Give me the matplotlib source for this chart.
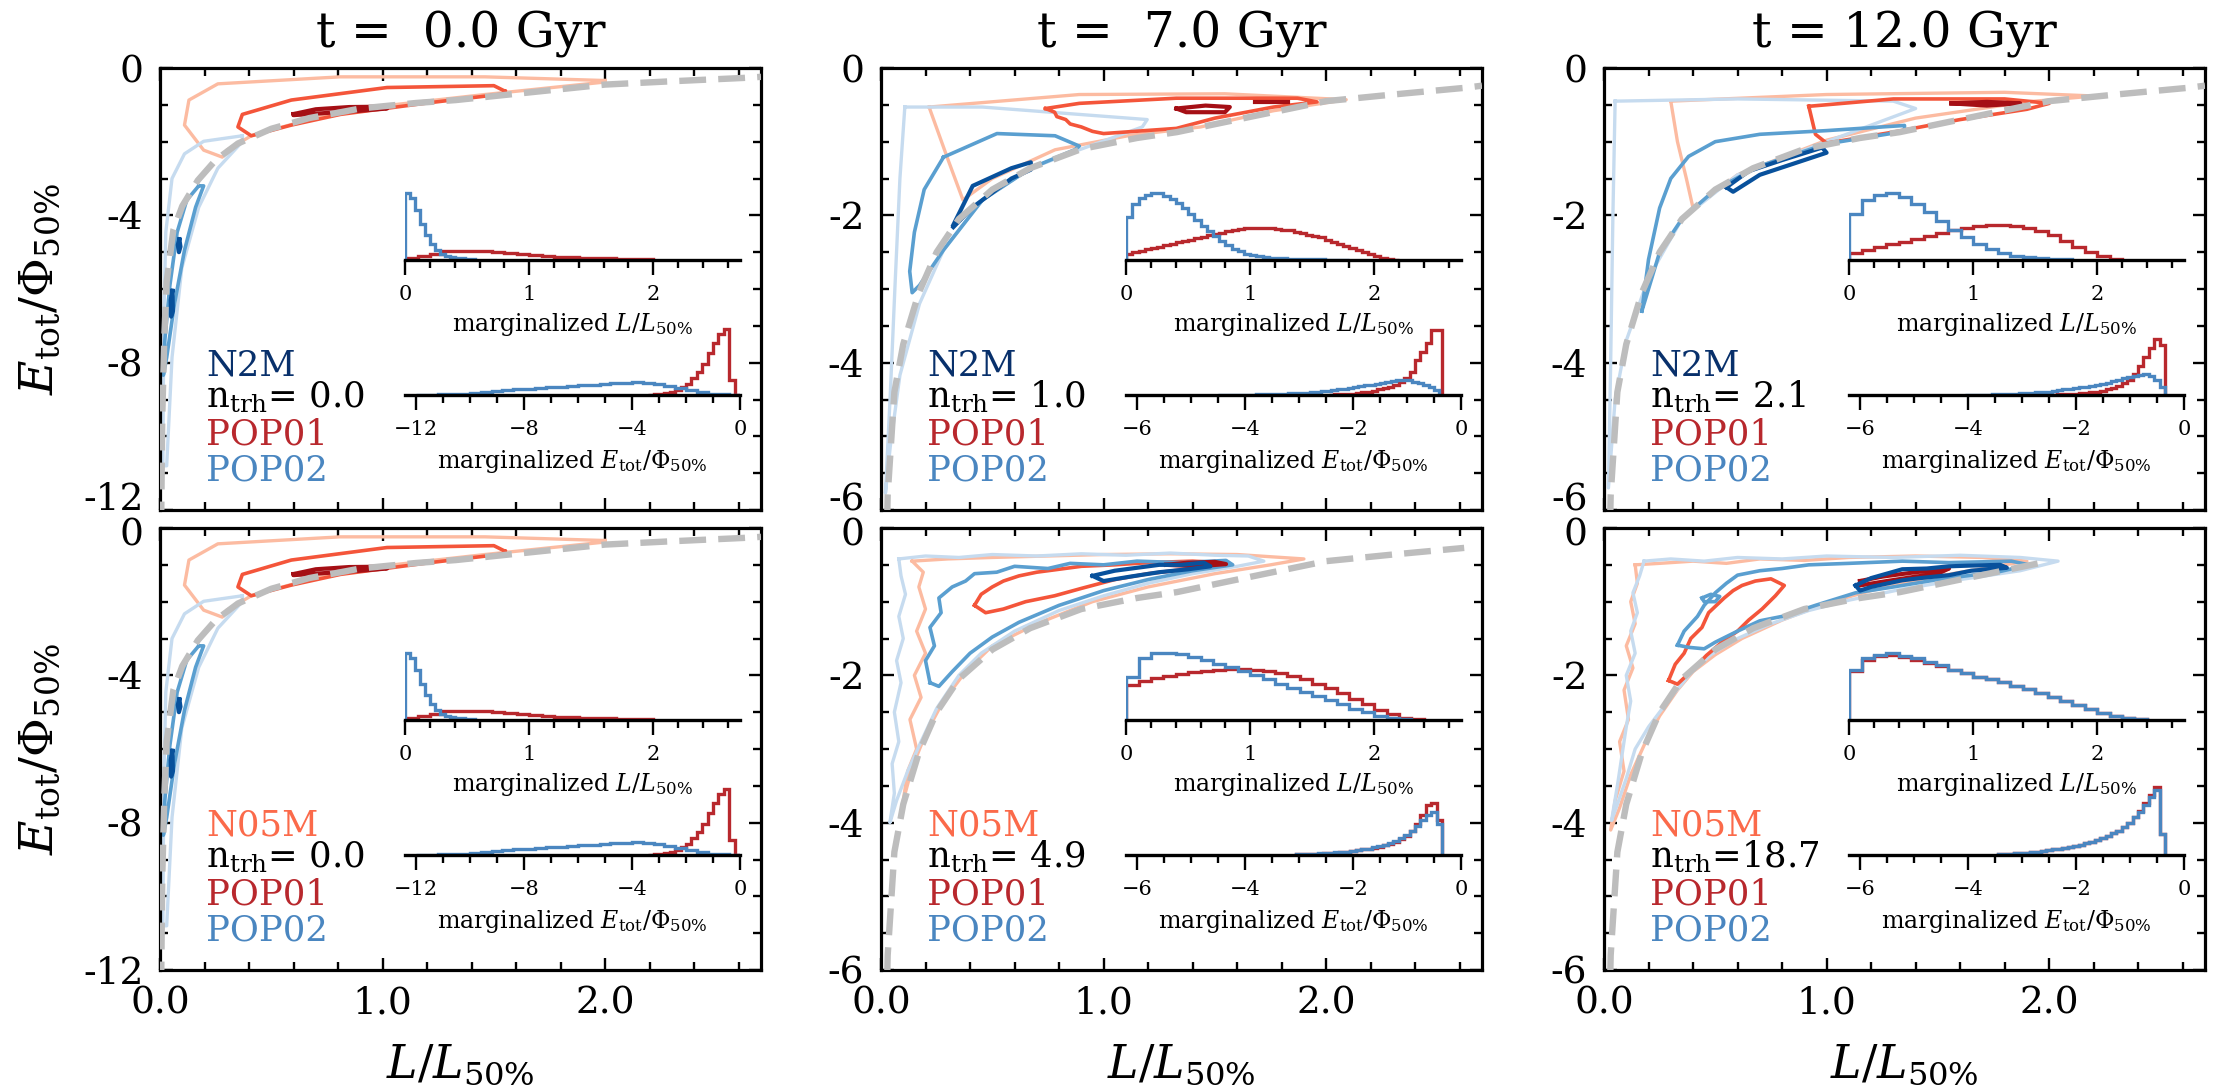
import numpy as np
import matplotlib
matplotlib.use("Agg")
import matplotlib.pyplot as plt

plt.rcParams["font.family"] = ["DejaVu Serif"]
plt.rcParams["mathtext.fontset"] = "dejavuserif"

# ---------------- panel meta data ----------------
times = [0.0, 7.0, 12.0]
models = ["N2M", "N05M"]
model_colors = ["#08306b", "#fb6a4a"]
n_trh = [[0.0, 1.0, 2.1], [0.0, 4.9, 18.7]]
e_min = [-12, -6, -6]
curve_end = [[2.7, 2.7, 2.7], [2.7, 2.62, 2.27]]

POP1_COLOR = "#b8282d"
POP2_COLOR = "#4a86c0"
R_OUT, R_MID, R_IN = "#fcbba1", "#f4553a", "#a50f15"
B_OUT, B_MID, B_IN = "#c6dbef", "#5a9fd0", "#08519c"

# circular orbit envelope (grey dashed)
env_L = [0.005, 0.01, 0.02, 0.03, 0.06, 0.1, 0.17, 0.25, 0.35, 0.5, 0.67, 0.9,
         1.15, 1.33, 1.6, 2.0, 2.3, 2.62, 2.7]
env_E = [-12.5, -9.5, -7.2, -5.8, -4.4, -3.75, -3.05, -2.5, -2.05, -1.65, -1.36,
         -1.1, -0.95, -0.87, -0.7, -0.45, -0.36, -0.27, -0.24]

# ---------------- contour outlines (L, E) ----------------
# t = 0 (identical in both rows)
t0_r_out = [(2.0, -0.34), (1.46, -0.24), (0.81, -0.24), (0.26, -0.43), (0.13, -0.87),
            (0.11, -1.55), (0.196, -2.23), (0.28, -2.42), (0.30, -2.23), (0.41, -1.84),
            (0.81, -1.16), (1.46, -0.72), (2.0, -0.38), (2.0, -0.34)]
t0_r_mid = [(1.55, -0.63), (1.50, -0.48), (1.02, -0.53), (0.59, -0.87), (0.37, -1.26),
            (0.35, -1.6), (0.41, -1.84), (0.59, -1.55), (0.81, -1.26), (1.2, -0.95),
            (1.55, -0.70), (1.55, -0.63)]
t0_r_in = [(0.6, -1.25), (0.7, -1.12), (0.85, -1.06), (1.0, -1.05), (1.02, -1.1),
           (0.9, -1.16), (0.75, -1.22), (0.6, -1.28), (0.6, -1.25)]
t0_b_out = [(0.37, -1.84), (0.196, -1.99), (0.11, -2.33), (0.054, -3.0), (0.026, -4.46),
            (0.017, -6.9), (0.013, -10.8), (0.03, -10.8), (0.054, -7.86), (0.098, -5.43),
            (0.174, -3.78), (0.26, -2.72), (0.37, -2.0), (0.37, -1.84)]
t0_b_mid = [(0.174, -3.2), (0.12, -3.59), (0.077, -4.46), (0.044, -5.92), (0.022, -7.37),
            (0.015, -8.34), (0.03, -7.86), (0.065, -6.4), (0.11, -4.95), (0.16, -3.78),
            (0.196, -3.2), (0.174, -3.2)]
t0_b_in1 = [(0.087, -4.65), (0.092, -4.85), (0.085, -5.0), (0.08, -4.8), (0.087, -4.65)]
t0_b_in2 = [(0.056, -6.05), (0.058, -6.6), (0.05, -6.75), (0.048, -6.3), (0.056, -6.05)]

# t = 7, N2M
t7a_r_out = [(0.216, -0.53), (0.891, -0.36), (1.545, -0.35), (2.09, -0.43), (1.763, -0.58),
             (1.436, -0.80), (1.109, -0.92), (0.782, -1.11), (0.5, -1.5), (0.368, -1.79),
             (0.303, -1.26), (0.216, -0.53)]
t7a_r_mid = [(0.739, -0.55), (0.891, -0.48), (1.327, -0.41), (1.871, -0.41), (1.959, -0.46),
             (1.763, -0.53), (1.501, -0.68), (1.327, -0.82), (1.0, -0.89), (0.95, -0.86),
             (0.9, -0.8), (0.85, -0.76), (0.83, -0.7), (0.79, -0.66), (0.78, -0.6), (0.739, -0.55)]
t7a_r_in = [(1.327, -0.55), (1.458, -0.51), (1.567, -0.53), (1.545, -0.60), (1.371, -0.60),
            (1.327, -0.55)]
t7a_r_in2 = [(1.68, -0.46), (1.83, -0.46)]
t7a_b_out = [(0.107, -0.53), (0.456, -0.53), (0.891, -0.63), (1.196, -0.70), (1.174, -0.80),
             (0.891, -1.11), (0.673, -1.36), (0.456, -1.79), (0.281, -2.47), (0.173, -3.2),
             (0.085, -4.17), (0.042, -5.13), (0.02, -5.77), (0.042, -4.41), (0.063, -2.95),
             (0.085, -1.5), (0.107, -0.53)]
t7a_b_mid = [(0.281, -1.21), (0.521, -0.89), (0.782, -0.92), (0.891, -1.06), (0.87, -1.11),
             (0.673, -1.36), (0.456, -1.79), (0.281, -2.47), (0.173, -2.95), (0.14, -3.05),
             (0.129, -2.76), (0.15, -2.23), (0.194, -1.65), (0.281, -1.21)]
t7a_b_in = [(0.325, -2.13), (0.412, -1.6), (0.586, -1.36), (0.673, -1.28), (0.673, -1.38),
            (0.586, -1.5), (0.412, -1.89), (0.325, -2.16)]

# t = 12, N2M
t12a_r_out = [(0.3, -0.45), (1.0, -0.36), (1.8, -0.33), (2.2, -0.38), (1.9, -0.46), (1.4, -0.68),
              (1.0, -0.98), (0.6, -1.45), (0.4, -1.9), (0.37, -1.5), (0.33, -1.0), (0.3, -0.45)]
t12a_r_mid = [(0.92, -0.52), (0.95, -0.9), (1.0, -1.02), (1.3, -0.87), (1.6, -0.7),
              (1.9, -0.56), (2.0, -0.48), (1.8, -0.42), (1.3, -0.42), (0.92, -0.52)]
t12a_r_in = [(1.56, -0.48), (1.72, -0.46), (1.87, -0.48), (1.72, -0.51), (1.56, -0.48)]
t12a_b_out = [(0.05, -0.45), (0.6, -0.42), (1.3, -0.45), (1.4, -0.55), (1.0, -1.0),
              (0.6, -1.45), (0.35, -2.05), (0.2, -2.85), (0.1, -3.7), (0.05, -4.5), (0.02, -5.7),
              (0.03, -4.0), (0.04, -2.0), (0.05, -0.45)]
t12a_b_mid = [(0.17, -3.3), (0.2, -2.6), (0.25, -1.9), (0.3, -1.5), (0.38, -1.2), (0.5, -1.0),
              (0.7, -0.9), (1.0, -0.85), (1.35, -0.78), (1.35, -0.86), (1.0, -1.03), (0.7, -1.33),
              (0.5, -1.65), (0.35, -2.05), (0.25, -2.5), (0.17, -3.3)]
t12a_b_in = [(0.55, -1.62), (0.65, -1.4), (0.8, -1.25), (0.98, -1.08), (1.0, -1.15),
             (0.85, -1.3), (0.7, -1.45), (0.58, -1.68), (0.55, -1.62)]

# t = 7, N05M (noisy contours)
t7b_r_out = [(0.14, -0.45), (0.3, -0.42), (0.5, -0.40), (0.75, -0.38), (1.0, -0.36), (1.3, -0.35),
             (1.6, -0.36), (1.9, -0.42), (1.75, -0.5), (1.5, -0.62), (1.2, -0.8), (0.95, -1.0),
             (0.7, -1.3), (0.5, -1.6), (0.38, -1.95), (0.28, -2.35), (0.2, -2.8), (0.14, -3.25),
             (0.1, -3.7), (0.12, -3.3), (0.16, -3.0), (0.13, -2.6), (0.18, -2.3), (0.15, -2.0),
             (0.2, -1.7), (0.16, -1.4), (0.2, -1.1), (0.17, -0.8), (0.19, -0.6), (0.14, -0.45)]
t7b_r_mid = [(0.42, -1.05), (0.45, -0.9), (0.5, -0.8), (0.55, -0.72), (0.62, -0.65), (0.7, -0.6),
             (0.8, -0.56), (0.9, -0.52), (1.05, -0.5), (1.2, -0.47), (1.4, -0.45), (1.52, -0.47),
             (1.4, -0.55), (1.2, -0.62), (1.05, -0.7), (0.9, -0.82), (0.78, -0.92), (0.65, -1.0),
             (0.55, -1.1), (0.47, -1.15), (0.42, -1.05)]
t7b_r_in = [(1.28, -0.5), (1.38, -0.47), (1.5, -0.46), (1.55, -0.49), (1.42, -0.52), (1.28, -0.5)]
t7b_b_out = [(0.08, -0.42), (0.2, -0.38), (0.35, -0.40), (0.5, -0.36), (0.7, -0.38), (0.9, -0.35),
             (1.1, -0.37), (1.3, -0.34), (1.5, -0.37), (1.65, -0.38), (1.72, -0.45), (1.6, -0.52),
             (1.4, -0.62), (1.2, -0.75), (1.0, -0.92), (0.8, -1.12), (0.6, -1.4), (0.45, -1.7),
             (0.35, -2.0), (0.25, -2.45), (0.18, -2.9), (0.12, -3.3), (0.07, -3.7), (0.04, -4.0),
             (0.06, -3.6), (0.05, -3.2), (0.08, -2.9), (0.06, -2.5), (0.09, -2.1), (0.07, -1.8),
             (0.1, -1.5), (0.08, -1.2), (0.11, -0.9), (0.09, -0.65), (0.08, -0.42)]
t7b_b_mid = [(0.22, -2.1), (0.2, -1.8), (0.24, -1.6), (0.22, -1.35), (0.27, -1.15), (0.26, -0.95),
             (0.32, -0.8), (0.38, -0.72), (0.42, -0.62), (0.52, -0.6), (0.6, -0.52), (0.75, -0.55),
             (0.85, -0.48), (1.0, -0.5), (1.15, -0.45), (1.35, -0.47), (1.55, -0.44), (1.58, -0.5),
             (1.4, -0.58), (1.2, -0.7), (1.0, -0.85), (0.8, -1.05), (0.62, -1.28), (0.5, -1.48),
             (0.4, -1.7), (0.32, -1.95), (0.26, -2.15), (0.22, -2.1)]
t7b_b_in = [(0.95, -0.65), (1.05, -0.58), (1.15, -0.54), (1.25, -0.5), (1.35, -0.5), (1.45, -0.47),
            (1.48, -0.52), (1.38, -0.56), (1.25, -0.6), (1.12, -0.66), (1.0, -0.72), (0.95, -0.65)]

# t = 12, N05M (noisy contours)
t12b_r_out = [(0.14, -0.5), (0.25, -0.48), (0.4, -0.45), (0.55, -0.48), (0.7, -0.42), (0.9, -0.44),
              (1.1, -0.40), (1.4, -0.38), (1.7, -0.40), (1.9, -0.45), (1.7, -0.55), (1.45, -0.68),
              (1.2, -0.85), (1.0, -1.02), (0.8, -1.25), (0.62, -1.5), (0.5, -1.72), (0.4, -1.95),
              (0.33, -2.2), (0.25, -2.55), (0.18, -2.95), (0.12, -3.35), (0.07, -3.8), (0.03, -4.1),
              (0.05, -3.7), (0.09, -3.3), (0.07, -2.9), (0.11, -2.6), (0.09, -2.2), (0.13, -1.9),
              (0.1, -1.6), (0.14, -1.3), (0.12, -1.0), (0.15, -0.75), (0.14, -0.5)]
t12b_r_mid = [(0.29, -2.07), (0.32, -1.85), (0.36, -1.7), (0.39, -1.5), (0.44, -1.35), (0.47, -1.15),
              (0.54, -0.95), (0.58, -0.85), (0.62, -0.78), (0.68, -0.72), (0.75, -0.69), (0.81, -0.78),
              (0.77, -0.92), (0.71, -1.1), (0.65, -1.25), (0.6, -1.4), (0.53, -1.55), (0.46, -1.73),
              (0.4, -1.92), (0.33, -2.12), (0.29, -2.07)]
t12b_r_in = [(1.15, -0.72), (1.25, -0.66), (1.4, -0.6), (1.55, -0.55), (1.5, -0.62), (1.4, -0.66),
             (1.25, -0.73), (1.15, -0.78), (1.15, -0.72)]
t12b_b_out = [(0.18, -0.45), (0.3, -0.42), (0.45, -0.45), (0.6, -0.40), (0.8, -0.42), (1.0, -0.38),
              (1.3, -0.40), (1.6, -0.37), (1.87, -0.40), (2.04, -0.45), (1.87, -0.58), (1.6, -0.7),
              (1.34, -0.83), (1.1, -0.98), (0.92, -1.12), (0.75, -1.3), (0.6, -1.5), (0.48, -1.72),
              (0.39, -1.97), (0.3, -2.3), (0.2, -2.7), (0.14, -3.0), (0.1, -3.4), (0.06, -3.75),
              (0.034, -3.97), (0.06, -3.5), (0.08, -3.1), (0.1, -2.7), (0.12, -2.35), (0.1, -2.0),
              (0.14, -1.7), (0.12, -1.4), (0.15, -1.15), (0.13, -0.88), (0.16, -0.65), (0.18, -0.45)]
t12b_b_mid = [(0.33, -1.59), (0.36, -1.4), (0.42, -1.2), (0.45, -1.05), (0.5, -0.88), (0.55, -0.75),
              (0.6, -0.64), (0.7, -0.58), (0.8, -0.55), (0.92, -0.5), (1.1, -0.48), (1.34, -0.45),
              (1.55, -0.47), (1.83, -0.45), (1.91, -0.5), (1.78, -0.59), (1.5, -0.7), (1.3, -0.8),
              (1.13, -0.88), (0.95, -1.05), (0.8, -1.2), (0.7, -1.26), (0.6, -1.4), (0.5, -1.55),
              (0.45, -1.64), (0.38, -1.62), (0.33, -1.59)]
t12b_b_mid2 = [(0.44, -0.95), (0.48, -0.9), (0.52, -0.93), (0.5, -1.0), (0.45, -1.0), (0.44, -0.95)]
t12b_b_in = [(1.13, -0.78), (1.2, -0.68), (1.34, -0.56), (1.45, -0.55), (1.55, -0.52), (1.65, -0.51),
             (1.78, -0.50), (1.81, -0.54), (1.65, -0.58), (1.55, -0.64), (1.42, -0.68), (1.34, -0.71),
             (1.2, -0.8), (1.15, -0.85), (1.13, -0.78)]

# ---------------- marginal histograms ----------------
# (lo, hi) bin ranges and heights (normalised to inset height)
h0_L1_rng, h0_L1 = (0.0, 2.0), [0.02, 0.06, 0.09, 0.12, 0.13, 0.13, 0.12, 0.11, 0.095, 0.08,
                                0.065, 0.055, 0.045, 0.035, 0.03, 0.025, 0.02, 0.015, 0.01, 0.005]
h0_L2_rng, h0_L2 = (0.0, 0.56), [0.96, 0.88, 0.72, 0.52, 0.35, 0.22, 0.14, 0.09, 0.06, 0.04,
                                 0.03, 0.02, 0.01, 0.005]
h0_E1_rng, h0_E1 = (-3.4, 0.0), [0.005, 0.01, 0.02, 0.03, 0.05, 0.07, 0.11, 0.16, 0.24, 0.33,
                                 0.45, 0.60, 0.74, 0.88, 0.95, 0.21, 0.0]
h0_E2_rng, h0_E2 = (-12.0, 0.0), [0.0, 0.005, 0.01, 0.015, 0.02, 0.03, 0.04, 0.06, 0.07, 0.08,
                                  0.09, 0.10, 0.11, 0.12, 0.13, 0.14, 0.15, 0.16, 0.17, 0.18,
                                  0.185, 0.18, 0.16, 0.13, 0.10, 0.07, 0.04, 0.02, 0.01, 0.0]

h7a_L1_rng, h7a_L1 = (0.0, 2.2), [0.08, 0.11, 0.13, 0.15, 0.17, 0.19, 0.21, 0.23, 0.25, 0.27,
                                  0.29, 0.31, 0.33, 0.35, 0.37, 0.39, 0.41, 0.43, 0.44, 0.45,
                                  0.46, 0.46, 0.46, 0.45, 0.44, 0.43, 0.42, 0.40, 0.38, 0.36,
                                  0.34, 0.32, 0.29, 0.26, 0.23, 0.20, 0.17, 0.14, 0.11, 0.08,
                                  0.05, 0.03, 0.01, 0.0]
h7a_L2_rng, h7a_L2 = (0.0, 1.8), [0.62, 0.80, 0.88, 0.93, 0.96, 0.95, 0.92, 0.87, 0.81, 0.74,
                                  0.66, 0.57, 0.49, 0.41, 0.34, 0.27, 0.21, 0.16, 0.12, 0.09,
                                  0.07, 0.05, 0.04, 0.03, 0.025, 0.02, 0.015, 0.012, 0.01, 0.008,
                                  0.006, 0.005, 0.003, 0.002, 0.001, 0.0]
h7a_E1_rng, h7a_E1 = (-2.45, -0.35), [0.0, 0.01, 0.01, 0.02, 0.02, 0.03, 0.04, 0.05, 0.06, 0.08,
                                      0.10, 0.12, 0.15, 0.19, 0.25, 0.33, 0.50, 0.62, 0.75, 0.93,
                                      0.93]
h7a_E2_rng, h7a_E2 = (-4.5, -0.4), [0.0, 0.002, 0.004, 0.005, 0.006, 0.007, 0.008, 0.01, 0.012,
                                    0.014, 0.016, 0.018, 0.02, 0.023, 0.026, 0.03, 0.035, 0.04,
                                    0.046, 0.052, 0.06, 0.07, 0.08, 0.09, 0.10, 0.11, 0.125, 0.14,
                                    0.15, 0.165, 0.18, 0.19, 0.20, 0.215, 0.22, 0.21, 0.19, 0.17,
                                    0.14, 0.11, 0.07]

h12a_L1_rng, h12a_L1 = (0.0, 2.2), [0.10, 0.14, 0.18, 0.22, 0.26, 0.30, 0.34, 0.38, 0.42, 0.45,
                                    0.48, 0.50, 0.50, 0.49, 0.46, 0.41, 0.35, 0.27, 0.19, 0.11,
                                    0.05, 0.01]
h12a_L2_rng, h12a_L2 = (0.0, 1.8), [0.65, 0.85, 0.93, 0.95, 0.90, 0.80, 0.68, 0.55, 0.43, 0.32,
                                    0.23, 0.16, 0.10, 0.06, 0.04, 0.02, 0.01, 0.005]
h12a_E1_rng, h12a_E1 = (-2.45, -0.35), [0.005, 0.01, 0.01, 0.015, 0.02, 0.025, 0.03, 0.04, 0.05,
                                        0.06, 0.08, 0.10, 0.13, 0.17, 0.22, 0.30, 0.42, 0.55,
                                        0.68, 0.80, 0.72]
h12a_E2_rng, h12a_E2 = (-4.05, -0.35), [0.0, 0.002, 0.004, 0.006, 0.008, 0.01, 0.012, 0.015,
                                        0.018, 0.021, 0.025, 0.03, 0.035, 0.04, 0.045, 0.05,
                                        0.06, 0.07, 0.08, 0.09, 0.10, 0.11, 0.12, 0.135, 0.15,
                                        0.165, 0.18, 0.2, 0.22, 0.24, 0.26, 0.28, 0.29, 0.3,
                                        0.28, 0.22, 0.12]

h7b_L1_rng, h7b_L1 = (0.0, 2.4), [0.50, 0.56, 0.60, 0.63, 0.66, 0.68, 0.70, 0.72, 0.73, 0.73,
                                  0.72, 0.70, 0.67, 0.63, 0.58, 0.52, 0.45, 0.38, 0.30, 0.22,
                                  0.14, 0.08, 0.03, 0.01]
h7b_L2_rng, h7b_L2 = (0.0, 2.3), [0.62, 0.88, 0.95, 0.96, 0.94, 0.90, 0.85, 0.80, 0.75, 0.70,
                                  0.64, 0.58, 0.52, 0.46, 0.40, 0.34, 0.28, 0.22, 0.16, 0.11,
                                  0.06, 0.03, 0.01]
h7b_E1_rng, h7b_E1 = (-3.05, -0.35), [0.01, 0.01, 0.015, 0.02, 0.02, 0.025, 0.03, 0.035, 0.04,
                                      0.05, 0.06, 0.07, 0.08, 0.09, 0.10, 0.12, 0.14, 0.16, 0.19,
                                      0.23, 0.28, 0.35, 0.45, 0.58, 0.72, 0.75, 0.5]
h7b_E2_rng, h7b_E2 = (-3.05, -0.35), [0.01, 0.015, 0.02, 0.02, 0.025, 0.03, 0.035, 0.04, 0.045,
                                      0.05, 0.06, 0.07, 0.08, 0.09, 0.11, 0.13, 0.15, 0.17, 0.20,
                                      0.24, 0.29, 0.35, 0.42, 0.50, 0.58, 0.62, 0.45]

h12b_L1_rng, h12b_L1 = (0.0, 2.4), [0.70, 0.86, 0.91, 0.93, 0.90, 0.86, 0.82, 0.77, 0.72, 0.67,
                                    0.62, 0.58, 0.54, 0.49, 0.44, 0.39, 0.33, 0.27, 0.21, 0.15,
                                    0.10, 0.05, 0.02, 0.005]
h12b_L2_rng, h12b_L2 = (0.0, 2.4), [0.72, 0.88, 0.93, 0.95, 0.92, 0.88, 0.83, 0.78, 0.72, 0.67,
                                    0.61, 0.58, 0.54, 0.49, 0.44, 0.39, 0.33, 0.27, 0.21, 0.15,
                                    0.10, 0.05, 0.02, 0.005]
h12b_E1_rng, h12b_E1 = (-3.45, -0.35), [0.015, 0.018, 0.022, 0.026, 0.03, 0.035, 0.04, 0.05,
                                        0.06, 0.07, 0.08, 0.09, 0.10, 0.115, 0.13, 0.15, 0.17,
                                        0.19, 0.21, 0.24, 0.27, 0.31, 0.35, 0.40, 0.46, 0.54,
                                        0.63, 0.74, 0.86, 0.98, 0.3]
h12b_E2_rng, h12b_E2 = (-3.45, -0.35), [0.015, 0.018, 0.022, 0.026, 0.03, 0.035, 0.04, 0.05,
                                        0.06, 0.07, 0.08, 0.09, 0.10, 0.115, 0.13, 0.15, 0.17,
                                        0.19, 0.21, 0.24, 0.27, 0.31, 0.35, 0.40, 0.46, 0.54,
                                        0.62, 0.72, 0.83, 0.93, 0.3]

# ---------------- assemble per-panel tables ----------------
def cset(r_out, r_mid, r_in, b_out, b_mid, b_in):
    return ([(R_OUT, 2.4, p) for p in r_out] + [(B_OUT, 2.4, p) for p in b_out] +
            [(R_MID, 2.6, p) for p in r_mid] + [(B_MID, 2.6, p) for p in b_mid] +
            [(R_IN, 3.0, p) for p in r_in] + [(B_IN, 3.0, p) for p in b_in])

t0_set = cset([t0_r_out], [t0_r_mid], [t0_r_in], [t0_b_out], [t0_b_mid], [t0_b_in1, t0_b_in2])
contours = {
    (0, 0): t0_set, (1, 0): t0_set,
    (0, 1): cset([t7a_r_out], [t7a_r_mid], [t7a_r_in, t7a_r_in2], [t7a_b_out], [t7a_b_mid], [t7a_b_in]),
    (0, 2): cset([t12a_r_out], [t12a_r_mid], [t12a_r_in], [t12a_b_out], [t12a_b_mid], [t12a_b_in]),
    (1, 1): cset([t7b_r_out], [t7b_r_mid], [t7b_r_in], [t7b_b_out], [t7b_b_mid], [t7b_b_in]),
    (1, 2): cset([t12b_r_out], [t12b_r_mid], [t12b_r_in], [t12b_b_out], [t12b_b_mid, t12b_b_mid2],
                 [t12b_b_in]),
}
t0_h = ((h0_L1_rng, h0_L1), (h0_L2_rng, h0_L2), (h0_E1_rng, h0_E1), (h0_E2_rng, h0_E2))
hists = {
    (0, 0): t0_h, (1, 0): t0_h,
    (0, 1): ((h7a_L1_rng, h7a_L1), (h7a_L2_rng, h7a_L2), (h7a_E1_rng, h7a_E1), (h7a_E2_rng, h7a_E2)),
    (0, 2): ((h12a_L1_rng, h12a_L1), (h12a_L2_rng, h12a_L2), (h12a_E1_rng, h12a_E1), (h12a_E2_rng, h12a_E2)),
    (1, 1): ((h7b_L1_rng, h7b_L1), (h7b_L2_rng, h7b_L2), (h7b_E1_rng, h7b_E1), (h7b_E2_rng, h7b_E2)),
    (1, 2): ((h12b_L1_rng, h12b_L1), (h12b_L2_rng, h12b_L2), (h12b_E1_rng, h12b_E1), (h12b_E2_rng, h12b_E2)),
}


def stairs(ax, rng, vals, color):
    edges = np.linspace(rng[0], rng[1], len(vals) + 1)
    ax.stairs(vals, edges, color=color, lw=2.4)


def style_inset(ax):
    for s in ["left", "right", "top"]:
        ax.spines[s].set_visible(False)
    ax.spines["bottom"].set_linewidth(2.4)
    ax.set_yticks([])
    ax.set_facecolor("none")
    ax.set_ylim(0, 1.0)
    ax.tick_params(which="both", direction="out", width=1.7, labelsize=15, pad=7)
    ax.tick_params(which="major", length=11)
    ax.tick_params(which="minor", length=6)


fig = plt.figure(figsize=(22.16, 10.9), dpi=100)
W, H = 2216.0, 1090.0
lefts = [160, 881, 1604]
tops = [68, 528]
aw, ah = 601, 442
TICK_FS = 27

for r in range(2):
    for c in range(3):
        ax = fig.add_axes([lefts[c] / W, 1 - (tops[r] + ah) / H, aw / W, ah / H])
        ymin = e_min[c]
        ax.set_xlim(0, 2.7)
        ax.set_ylim(ymin, 0)

        for color, lw, pts in contours[(r, c)]:
            pts = np.array(pts)
            ax.plot(pts[:, 0], pts[:, 1], color=color, lw=lw, solid_joinstyle="round", zorder=2)

        eL = np.array(env_L)
        eE = np.array(env_E)
        m = eL <= curve_end[r][c] + 1e-9
        ax.plot(eL[m], eE[m], color="#bdbdbd", lw=4.6, dashes=(4.2, 1.9), zorder=3)

        # ticks
        ystep = 4 if ymin == -12 else 2
        ax.set_xticks([0.0, 1.0, 2.0])
        ax.set_xticks(np.arange(0.2, 2.61, 0.2), minor=True)
        yticks = np.arange(ymin, 1, ystep)
        ax.set_yticks(yticks)
        ax.set_yticks(np.arange(ymin, 0.001, ystep / 4), minor=True)
        ax.tick_params(which="both", direction="in", top=True, right=True, width=1.7)
        ax.tick_params(which="major", length=9, labelsize=TICK_FS)
        ax.tick_params(which="minor", length=5.5)
        ax.tick_params(axis="x", pad=11)
        ax.tick_params(axis="y", pad=12)
        ypad = -16.5 / aw
        # the end labels next to the row gap are nudged apart, as in the original
        if r == 0:
            ax.tick_params(labelbottom=False)
            ax.set_yticklabels(["" if v == ymin else "%d" % v for v in yticks])
            ax.text(ypad, 10 / ah, "%d" % ymin, fontsize=TICK_FS, ha="right", va="center",
                    transform=ax.transAxes)
        else:
            ax.set_xticklabels(["0.0", "1.0", "2.0"])
            ax.set_yticklabels(["" if v == 0 else "%d" % v for v in yticks])
            ax.text(ypad, 1 - 8 / ah, "0", fontsize=TICK_FS, ha="right", va="center",
                    transform=ax.transAxes)
        for s in ax.spines.values():
            s.set_linewidth(2.3)

        # labels
        ax.text(0.077, 0.328, models[r], color=model_colors[r], fontsize=25.5,
                transform=ax.transAxes, va="center")
        ax.text(0.077, 0.255, r"n$_{\rm trh}$=%4.1f" % n_trh[r][c], color="black", fontsize=25.5,
                transform=ax.transAxes, va="center")
        ax.text(0.077, 0.17, "POP01", color=POP1_COLOR, fontsize=25.5,
                transform=ax.transAxes, va="center")
        ax.text(0.077, 0.09, "POP02", color=POP2_COLOR, fontsize=25.5,
                transform=ax.transAxes, va="center")
        if r == 0:
            ax.text(0.5, 1 + 34 / ah, "t = %4.1f Gyr" % times[c], fontsize=35,
                    ha="center", va="center", transform=ax.transAxes)

        # insets
        (L1r, L1), (L2r, L2), (E1r, E1), (E2r, E2) = hists[(r, c)]
        axL = ax.inset_axes([0.408, 0.566, 0.557, 0.158])
        style_inset(axL)
        axL.set_xlim(0, 2.7)
        axL.set_xticks([0, 1, 2])
        axL.set_xticks(np.arange(0.2, 2.61, 0.2), minor=True)
        stairs(axL, L1r, L1, POP1_COLOR)
        stairs(axL, L2r, L2, POP2_COLOR)
        axL.text(0.5, -0.93, r"marginalized $L/L_{50\%}$", fontsize=17,
                 ha="center", va="center", transform=axL.transAxes)

        axE = ax.inset_axes([0.408, 0.26, 0.557, 0.158])
        style_inset(axE)
        axE.set_xlim(ymin * 1.033, 0)
        axE.set_xticks(np.arange(ymin, 0.001, ystep))
        axE.set_xticks(np.arange(ymin, 0.001, ystep / 4), minor=True)
        stairs(axE, E1r, E1, POP1_COLOR)
        stairs(axE, E2r, E2, POP2_COLOR)
        axE.text(0.5, -0.955, r"marginalized $E_{\rm tot}/\Phi_{50\%}$", fontsize=17,
                 ha="center", va="center", transform=axE.transAxes)

for r in range(2):
    fig.text(40 / W, 1 - (tops[r] + ah / 2) / H, r"$E_{\rm tot}/\Phi_{50\%}$", fontsize=34,
             rotation=90, ha="center", va="center")
for c in range(3):
    fig.text((lefts[c] + aw / 2) / W, 1 - 1065 / H, r"$L/L_{50\%}$", fontsize=33,
             ha="center", va="center")

fig.savefig("out.png", dpi=100, facecolor="white")
